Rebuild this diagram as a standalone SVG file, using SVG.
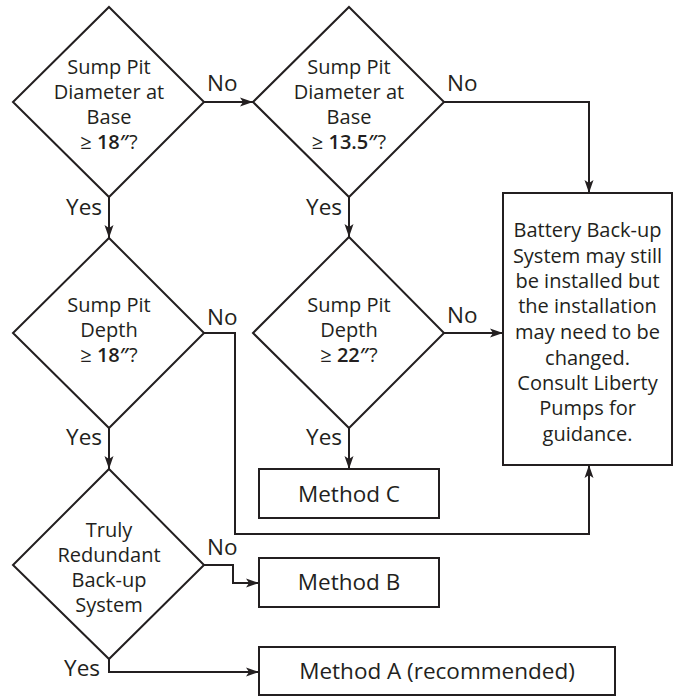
<svg xmlns="http://www.w3.org/2000/svg" width="678" height="696" viewBox="0 0 678 696">
<defs>
<marker id="arr" markerUnits="userSpaceOnUse" markerWidth="14" markerHeight="10" refX="13" refY="5" orient="auto">
<path d="M0,0.5 L13,5 L0,9.5 L3,5 Z" fill="#231f20"/>
</marker>
<style>
.shape{fill:#fff;stroke:#231f20;stroke-width:2}
.conn{fill:none;stroke:#231f20;stroke-width:2;marker-end:url(#arr)}
text{font-family:"Open Sans","Noto Sans","DejaVu Sans",sans-serif;font-size:20px;fill:#231f20}
.lbl{font-size:22.5px}
.c{text-anchor:middle}
.e{text-anchor:end}
.b{font-weight:600}
</style>
</defs>
<rect width="678" height="696" fill="#fff"/>
<g id="connectors">
<path class="conn" d="M204,102 H253"/>
<path class="conn" d="M109,197 V238"/>
<path class="conn" d="M444,102 H589 V193"/>
<path class="conn" d="M349,197 V237"/>
<path class="conn" d="M204,333 H235 V534 H589 V465"/>
<path class="conn" d="M109,428 V469"/>
<path class="conn" d="M444,333 H503"/>
<path class="conn" d="M349,428 V469"/>
<path class="conn" d="M204,565 H233 V583 H259"/>
<path class="conn" d="M109,659 V672 H259"/>
<text class="lbl" x="207" y="91">No</text>
<text class="lbl e" x="102" y="215">Yes</text>
<text class="lbl" x="447" y="91">No</text>
<text class="lbl e" x="342" y="215">Yes</text>
<text class="lbl" x="207" y="325">No</text>
<text class="lbl e" x="102" y="445">Yes</text>
<text class="lbl" x="447" y="323">No</text>
<text class="lbl e" x="342" y="445">Yes</text>
<text class="lbl" x="207" y="555">No</text>
<text class="lbl e" x="100" y="676">Yes</text>
</g>
<g id="d1">
<polygon class="shape" points="109,7 204,102 109,197 13,102"/>
<text class="c" x="109" y="74">Sump Pit</text>
<text class="c" x="109" y="99">Diameter at</text>
<text class="c" x="109" y="124">Base</text>
<text class="c" x="109" y="149">≥ <tspan class="b">18″</tspan>?</text>
</g>
<g id="d2">
<polygon class="shape" points="349,7 444,102 349,197 253,102"/>
<text class="c" x="349" y="74">Sump Pit</text>
<text class="c" x="349" y="99">Diameter at</text>
<text class="c" x="349" y="124">Base</text>
<text class="c" x="349" y="149">≥ <tspan class="b">13.5″</tspan>?</text>
</g>
<g id="d3">
<polygon class="shape" points="109,238 204,333 109,428 13,333"/>
<text class="c" x="109" y="312">Sump Pit</text>
<text class="c" x="109" y="337">Depth</text>
<text class="c" x="109" y="362">≥ <tspan class="b">18″</tspan>?</text>
</g>
<g id="d5">
<polygon class="shape" points="349,237 444,333 349,428 253,333"/>
<text class="c" x="349" y="312">Sump Pit</text>
<text class="c" x="349" y="337">Depth</text>
<text class="c" x="349" y="362">≥ <tspan class="b">22″</tspan>?</text>
</g>
<g id="d4">
<polygon class="shape" points="109,469 204,565 109,659 13,565"/>
<text class="c" x="109" y="537">Truly</text>
<text class="c" x="109" y="562">Redundant</text>
<text class="c" x="109" y="587">Back-up</text>
<text class="c" x="109" y="612">System</text>
</g>
<g id="battery">
<rect class="shape" x="503" y="193" width="169" height="272"/>
<text class="c" x="587.5" y="237">Battery Back-up</text>
<text class="c" x="587.5" y="263">System may still</text>
<text class="c" x="587.5" y="288">be installed but</text>
<text class="c" x="587.5" y="313">the installation</text>
<text class="c" x="587.5" y="339">may need to be</text>
<text class="c" x="587.5" y="365">changed.</text>
<text class="c" x="587.5" y="390">Consult Liberty</text>
<text class="c" x="587.5" y="415">Pumps for</text>
<text class="c" x="587.5" y="441">guidance.</text>
</g>
<g id="methodC">
<rect class="shape" x="259" y="469" width="180" height="49"/>
<text class="lbl c" x="349" y="502">Method C</text>
</g>
<g id="methodB">
<rect class="shape" x="259" y="558" width="180" height="49"/>
<text class="lbl c" x="349" y="590">Method B</text>
</g>
<g id="methodA">
<rect class="shape" x="259" y="647" width="356" height="48"/>
<text class="lbl c" x="437" y="679">Method A (recommended)</text>
</g>
</svg>
